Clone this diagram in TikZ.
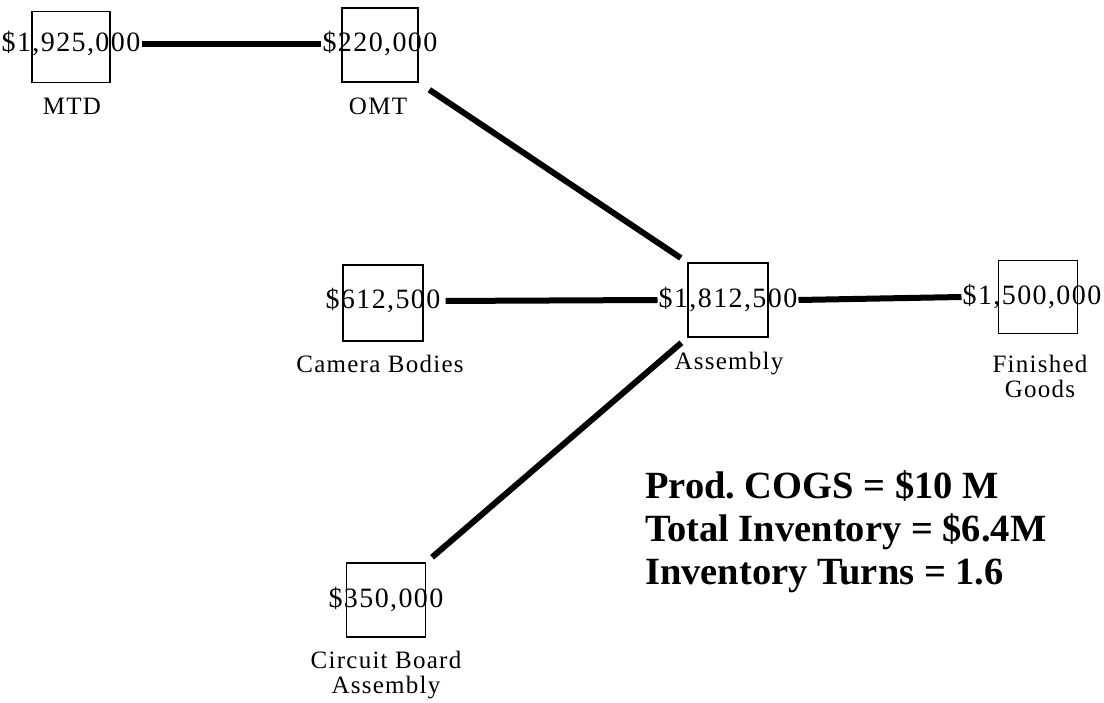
\documentclass[tikz,border=0pt]{standalone}
\usepackage{fontspec}
\setmainfont{Liberation Serif}
\newfontfamily\spacedserif[LetterSpace=5]{Liberation Serif}
\begin{document}
\begin{tikzpicture}[x=1pt,y=-1pt,
  box/.style={draw,line width=1.1pt,inner sep=0pt,minimum width=79pt,minimum height=74pt},
  val/.style={inner sep=1pt,font=\spacedserif\fontsize{28}{30}\selectfont},
  lab/.style={inner sep=0pt,align=center,font=\spacedserif\fontsize{25}{25}\selectfont},
  link/.style={line width=6pt},
  summ/.style={anchor=base west,inner sep=0pt,font=\fontsize{38.5}{40}\selectfont\bfseries}]
\useasboundingbox (0,0) rectangle (1104,703);
% boxes
\node[box,minimum width=78pt,minimum height=71pt] (mtd) at (71,47) {};
\node[box,minimum width=76pt] (omt) at (380,45) {};
\node[box,minimum width=80pt,minimum height=76pt] (cam) at (383,303) {};
\node[box,minimum width=80pt] (asm) at (728,300) {};
\node[box,minimum height=73pt] (fg) at (1038,297) {};
\node[box] (cba) at (386,600) {};
% values
\node[val] (mtdv) at ([yshift=3pt]mtd.center) {\$1,925,000};
\node[val] (omtv) at ([yshift=1pt]omt.center) {\$220,000};
\node[val] (camv) at ([yshift=2pt]cam.center) {\$612,500};
\node[val] (asmv) at (asm.center) {\$1,812,500};
\node[val] (fgv) at ([xshift=-6pt]fg.center) {\$1,500,000};
\node[val] (cbav) at (cba.center) {\$350,000};
% labels
\node[lab] (mtdl) at (72,106) {MTD};
\node[lab] (omtl) at (378,106) {OMT};
\node[lab] (caml) at (380,364) {Camera Bodies};
\node[lab] (asml) at (729,364) {Assembly};
\node[lab] (fgl) at (1040,376) {Finished\\Goods};
\node[lab] (cbal) at (386,675) {Circuit Board\\Assembly};
% connectors
\draw[link] (mtdv.east) -- (omtv.west);
\draw[link,shorten <=13pt,shorten >=8pt] (omt.south east) -- (asm.north west);
\draw[link,shorten <=4pt] (camv.east) -- (asmv.west);
\draw[link] (asmv.east) -- (fgv.west);
\draw[link,shorten <=8pt,shorten >=8pt] (cba.north east) -- (asm.south west);
% summary
\node[summ] (s1) at (645,498) {Prod.\ COGS = \$10 M};
\node[summ] (s2) at (645,541) {Total Inventory = \$6.4M};
\node[summ] (s3) at (645,584) {Inventory Turns = 1.6};
\end{tikzpicture}
\end{document}
